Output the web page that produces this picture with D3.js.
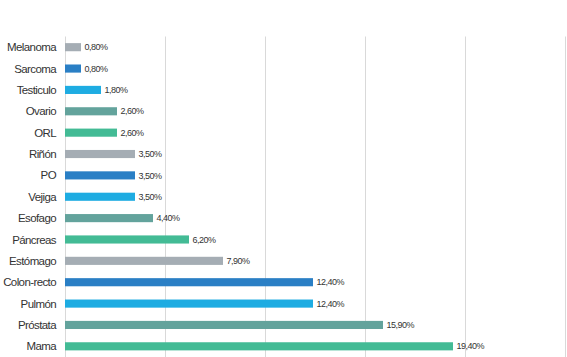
<!DOCTYPE html>
<html><head><meta charset="utf-8">
<script src="https://cdn.jsdelivr.net/npm/d3@7"></script>
<style>body{margin:0;background:#fff;}svg{display:block;}</style>
</head><body>
<svg id="c" width="567" height="357"></svg>
<script>
const categories = ["Melanoma","Sarcoma","Testiculo","Ovario","ORL","Riñón","PO","Vejiga","Esofago","Páncreas","Estómago","Colon-recto","Pulmón","Próstata","Mama"];
const values = [0.8,0.8,1.8,2.6,2.6,3.5,3.5,3.5,4.4,6.2,7.9,12.4,12.4,15.9,19.4];
const palette = ["#a5adb4","#2a7fc5","#1eace2","#63a39c","#43bb95"];
const xTicks = [0,5,10,15,20,25];

const svg = d3.select("#c");
const x = d3.scaleLinear().domain([0,25]).range([64.5,564.5]);
const y = d3.scaleBand().domain(categories).range([36.5,357]).paddingInner(0.62).paddingOuter(0.31);

svg.append("g").selectAll("line").data(xTicks).join("line")
  .attr("x1",d=>Math.round(x(d))+0.5).attr("x2",d=>Math.round(x(d))+0.5)
  .attr("y1",36.5).attr("y2",357)
  .attr("stroke","#d9d9d9").attr("stroke-width",1);

svg.append("g").selectAll("rect").data(values).join("rect")
  .attr("x",x(0)+0.5).attr("y",(d,i)=>y(categories[i]))
  .attr("width",d=>x(d)-x(0)).attr("height",y.bandwidth())
  .attr("fill",(d,i)=>palette[i%5]);

svg.append("g").selectAll("text").data(categories).join("text")
  .attr("x",56).attr("y",d=>y(d)+y.bandwidth()/2).attr("dy","0.35em")
  .attr("text-anchor","end")
  .style("font-family","Liberation Sans, Arial, sans-serif").style("font-size","11.5px")
  .style("letter-spacing","-0.6px").attr("fill","#333")
  .text(d=>d);

svg.append("g").selectAll("text").data(values).join("text")
  .attr("x",d=>x(d)+4).attr("y",(d,i)=>y(categories[i])+y.bandwidth()/2).attr("dy","0.35em")
  .style("font-family","Liberation Sans, Arial, sans-serif").style("font-size","9px")
  .style("letter-spacing","-0.5px").attr("fill","#333")
  .text(d=>d.toFixed(2).replace(".",",")+"%");
</script>
</body></html>
